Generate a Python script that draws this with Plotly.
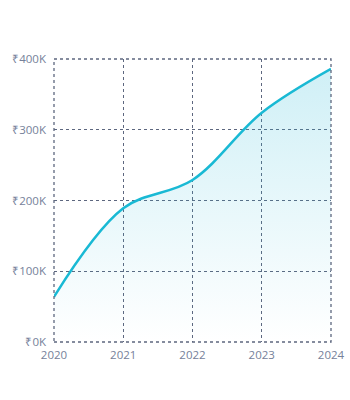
import plotly.graph_objects as go

years = [2020, 2021, 2022, 2023, 2024]
values = [64000, 189000, 229000, 324000, 386000]
tick_vals = [0, 100000, 200000, 300000, 400000]
tick_text = ["₹0K", "₹100K", "₹200K", "₹300K", "₹400K"]
year_text = ["2020", "2021", "2022", "2023", "2024"]

grid_color = "#5d677f"
label_color = "#76819a"

fig = go.Figure()
fig.add_trace(go.Scatter(
    x=years, y=values, mode="lines",
    line=dict(color="#19b9d4", width=2.5, shape="spline", smoothing=1.0),
    fill="tozeroy",
    fillgradient=dict(type="vertical",
                      colorscale=[[0, "rgba(40,185,215,0.0)"], [1, "rgba(40,185,215,0.22)"]]),
    hoverinfo="skip",
))

# dotted frame around the plotting area (edges where plotly omits gridlines)
fig.add_shape(type="rect", xref="paper", yref="paper", x0=0, y0=0, x1=1, y1=1,
              line=dict(color=grid_color, width=1.3, dash="dot"), layer="above")

fig.update_layout(
    width=350, height=400,
    margin=dict(l=54, r=19, t=59, b=58, autoexpand=False),
    paper_bgcolor="white", plot_bgcolor="white",
    showlegend=False,
    font=dict(family="Open Sans", size=11.5, color=label_color),
)
fig.update_xaxes(
    range=[2020, 2024], tickvals=years, ticktext=year_text,
    showgrid=True, gridcolor=grid_color, griddash="dot", gridwidth=1.3,
    zeroline=False, showline=False, ticks="", ticklabelstandoff=4,
    automargin=False,
    tickfont=dict(size=11.5, color=label_color),
)
fig.update_yaxes(
    range=[0, 400000], tickvals=tick_vals, ticktext=tick_text,
    showgrid=True, gridcolor=grid_color, griddash="dot", gridwidth=1.3,
    zeroline=False, showline=False, ticks="", ticklabelstandoff=7,
    automargin=False,
    tickfont=dict(size=11.5, color=label_color),
)
fig.write_html("out.html")
